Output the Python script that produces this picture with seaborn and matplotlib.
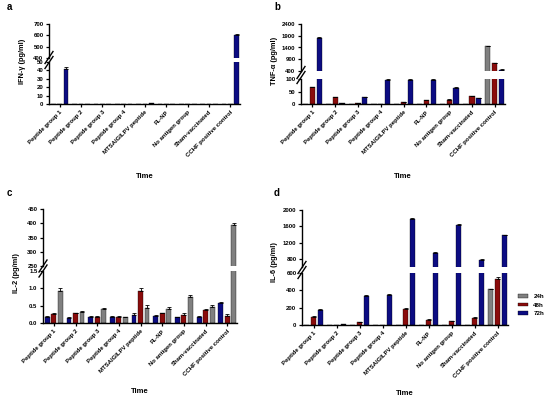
import numpy as np
import pandas as pd
import matplotlib
matplotlib.use('Agg')
import matplotlib.pyplot as plt
import seaborn as sns
from matplotlib.lines import Line2D

groups = ['Peptide group 1', 'Peptide group 2', 'Peptide group 3', 'Peptide group 4',
          'MTSAIGILPV peptide', 'FL-NP', 'No antigen group', 'Sham-vaccinated',
          'CCHF positive control']
times = ['24h', '48h', '72h']

# IFN-gamma
ifn_24 = [0, 0, 0, 0, 0, 0, 0, 0, 0]
ifn_48 = [0, 0, 0, 0, 0, 0, 0, 0, 0]
ifn_72 = [42, 0, 0, 0, 1, 0, 0, 0, 600]
ifn_err_24 = [0, 0, 0, 0, 0, 0, 0, 0, 0]
ifn_err_48 = [0, 0, 0, 0, 0, 0, 0, 0, 0]
ifn_err_72 = [2, 0, 0, 0, 0.5, 0, 0, 0, 12]

# TNF-alpha
tnf_24 = [0, 0, 0, 0, 0, 0, 0, 0, 1450]
tnf_48 = [68, 28, 4, 0, 8, 16, 18, 31, 720]
tnf_72 = [1810, 3, 28, 96, 97, 96, 66, 23, 460]
tnf_err_24 = [0, 0, 0, 0, 0, 0, 0, 0, 25]
tnf_err_48 = [2, 2, 1, 0, 1, 2, 2, 3, 30]
tnf_err_72 = [30, 1, 2, 4, 3, 5, 2, 3, 15]

# IL-2
il2_24 = [0.93, 0.33, 0.40, 0.17, 0.44, 0.41, 0.75, 0.47, 395]
il2_48 = [0.27, 0.28, 0.17, 0.18, 0.93, 0.28, 0.24, 0.38, 0.21]
il2_72 = [0.17, 0.14, 0.18, 0.17, 0.23, 0.20, 0.16, 0.16, 0.57]
il2_err_24 = [0.07, 0.02, 0.04, 0.01, 0.07, 0.04, 0.05, 0.04, 5]
il2_err_48 = [0.03, 0.02, 0.03, 0.02, 0.07, 0.02, 0.04, 0.01, 0.04]
il2_err_72 = [0.03, 0.04, 0.02, 0.03, 0.06, 0.04, 0.02, 0.03, 0.03]

# IL-6
il6_24 = [0, 0, 0, 0, 0, 0, 0, 0, 410]
il6_48 = [95, 0, 32, 0, 190, 56, 44, 82, 530]
il6_72 = [175, 8, 333, 348, 1770, 955, 1620, 775, 1380]
il6_err_24 = [0, 0, 0, 0, 0, 0, 0, 0, 8]
il6_err_48 = [8, 0, 5, 0, 10, 8, 6, 5, 25]
il6_err_72 = [8, 3, 15, 8, 25, 25, 25, 30, 15]

colors = {'24h': '#808080', '48h': '#8a0c0c', '72h': '#0c0c82'}

plt.rcParams['font.family'] = ['Liberation Sans', 'DejaVu Sans']
plt.rcParams['font.weight'] = 'bold'

W, H = 550, 399
fig = plt.figure(figsize=(5.5, 3.99), dpi=100)


def make_df(v24, v48, v72):
    return pd.DataFrame({
        'group': groups * 3,
        'time': ['24h'] * 9 + ['48h'] * 9 + ['72h'] * 9,
        'value': list(v24) + list(v48) + list(v72),
    })


def add_px(x0, x1, y0, y1):
    # pixel box -> figure axes
    return fig.add_axes([x0 / W, 1 - y1 / H, (x1 - x0) / W, (y1 - y0) / H])


def panel(df, errs, hue_order, box, top_box, lims_lo, lims_hi,
          ticks_lo, ticks_hi, ylabel, ylab_xy, time_y, fmt=None, legend=False):
    x0, x1 = box
    ax_hi = add_px(x0, x1, top_box[0], top_box[1])
    ax_lo = add_px(x0, x1, top_box[2], top_box[3])
    for ax in (ax_hi, ax_lo):
        sns.barplot(data=df, x='group', y='value', hue='time', hue_order=hue_order,
                    palette=colors, width=0.9, gap=0.25, errorbar=None, saturation=1,
                    edgecolor='black', linewidth=0.25, ax=ax,
                    legend=(legend and ax is ax_lo))
        for cont, t in zip(ax.containers, hue_order):
            e = errs[t]
            xs = [p.get_x() + p.get_width() / 2 for p in cont.patches]
            hs = [p.get_height() for p in cont.patches]
            for xx, hh, ee in zip(xs, hs, e):
                if ee > 0:
                    ax.errorbar(xx, hh, yerr=[[0], [ee]], fmt='none', ecolor='black',
                                elinewidth=0.6, capsize=1.2, capthick=0.6)
        ax.set_xlim(-0.5, 8.45)
        ax.set_xlabel('')
        ax.set_ylabel('')
        for s in ['top', 'right']:
            ax.spines[s].set_visible(False)
        for s in ['left', 'bottom']:
            ax.spines[s].set_linewidth(1.0)
        ax.tick_params(axis='both', length=2.5, width=0.9, labelsize=4.3, pad=1.5)
    ax_hi.set_ylim(*lims_hi)
    ax_lo.set_ylim(*lims_lo)
    ax_hi.set_yticks(ticks_hi)
    ax_lo.set_yticks(ticks_lo)
    if fmt:
        ax_lo.set_yticklabels([fmt.format(t) for t in ticks_lo])
    ax_hi.spines['bottom'].set_visible(False)
    ax_hi.tick_params(axis='x', bottom=False, labelbottom=False)
    ax_lo.set_xticks(range(9))
    ax_lo.set_xticklabels(groups, rotation=45, ha='right', rotation_mode='anchor',
                          fontsize=4.3, fontweight='bold')
    ax_lo.set_xlabel('Time', fontsize=5.5, fontweight='bold')
    ax_lo.xaxis.set_label_coords(0.5, (top_box[3] - time_y) / (top_box[3] - top_box[2]))
    # break marks
    gy = (top_box[1] + top_box[2]) / 2
    for dy in (-2.5, 2.5):
        fig.add_artist(Line2D([(x0 - 4) / W, (x0 + 4) / W],
                              [1 - (gy + dy + 6) / H, 1 - (gy + dy - 6) / H],
                              color='black', lw=1.0))
    fig.text(ylab_xy[0] / W, 1 - ylab_xy[1] / H, ylabel, rotation=90, fontsize=5.3,
             fontweight='bold', ha='center', va='center')
    if legend:
        ax_lo.legend(loc='center left', bbox_to_anchor=(1.02, 0.38), frameon=False,
                     fontsize=4.5, handlelength=1.7, handleheight=0.5,
                     labelspacing=0.6, handletextpad=0.8)
    return ax_hi, ax_lo


def errs_dict(e24, e48, e72):
    return {'24h': e24, '48h': e48, '72h': e72}


panel(make_df(ifn_24, ifn_48, ifn_72), errs_dict(ifn_err_24, ifn_err_48, ifn_err_72),
      times, (49, 240), (24, 58, 62, 104), (0, 50), (400, 700),
      [0, 10, 20, 30, 40, 50], [400, 500, 600, 700], 'IFN-γ (pg/ml)', (23, 61), 173)

panel(make_df(tnf_24, tnf_48, tnf_72), errs_dict(tnf_err_24, tnf_err_48, tnf_err_72),
      times, (301, 505), (24, 71, 79, 104), (0, 100), (400, 2400),
      [0, 50, 100], [400, 900, 1400, 1900, 2400], 'TNF-α (pg/ml)', (274, 61), 173)

panel(make_df(il2_24, il2_48, il2_72), errs_dict(il2_err_24, il2_err_48, il2_err_72),
      times[::-1], (43, 237), (209, 266, 271, 323), (0, 1.5), (250, 450),
      [0, 0.5, 1.0, 1.5], [250, 300, 350, 400, 450], 'IL-2 (pg/ml)', (17, 273), 388,
      fmt='{:.1f}')

panel(make_df(il6_24, il6_48, il6_72), errs_dict(il6_err_24, il6_err_48, il6_err_72),
      times, (302, 508), (210, 267, 273, 325), (0, 600), (600, 2000),
      [0, 200, 400, 600], [800, 1200, 1600, 2000], 'IL-6 (pg/ml)', (275, 262), 390,
      legend=True)

for letter, (px, py) in {'a': (7, 7), 'b': (274, 7), 'c': (7, 193), 'd': (274, 193)}.items():
    fig.text(px / W, 1 - py / H, letter, fontsize=7, fontweight='bold', ha='left', va='center')

fig.savefig('out.png', dpi=100)
